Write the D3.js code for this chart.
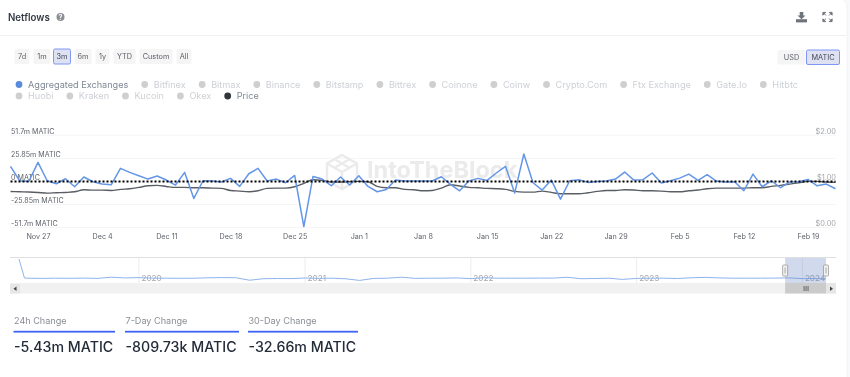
<!DOCTYPE html>
<html><head><meta charset="utf-8">
<script src="https://cdn.jsdelivr.net/npm/d3@7"></script>
<style>
html,body{margin:0;padding:0;background:#f8f9fb;overflow:hidden}
svg{display:block;filter:blur(0.35px)}
text{font-family:Inter,"Noto Sans",sans-serif}
</style></head><body><div id="chart"></div>
<script>
const title = "Netflows";
const rangeButtons = ["7d","1m","3m","6m","1y","YTD","Custom","All"];
const selectedRange = "3m";
const unitButtons = ["USD","MATIC"];
const selectedUnit = "MATIC";
const legendRow1 = ["Aggregated Exchanges","Bitfinex","Bitmax","Binance","Bitstamp","Bittrex","Coinone","Coinw","Crypto.Com","Ftx Exchange","Gate.Io","Hitbtc"];
const legendRow2 = ["Huobi","Kraken","Kucoin","Okex","Price"];
const activeColors = {"Aggregated Exchanges":"#5b8bdc","Price":"#33373d"};
const startDate = "2023-11-24";
const netflows = [16.9,0.7,0,21.4,0.7,-2.6,3.0,-6.0,4.9,-0.4,-3.0,-3.7,14.6,10.1,6.4,2.6,6.0,1.5,-4.1,10.1,-19.1,0.7,0.4,-0.7,3.4,-5.6,8.6,14.6,0.4,2.6,-1.5,6.7,-50.6,5.6,2.6,-4.9,4.9,-4.1,6.4,-5.6,-11.6,-9.0,1.5,0.4,0.4,0.4,0.4,5.2,-3.4,-10.5,0.4,3.4,1.1,9.4,16.9,-13.1,30.7,-1.5,-9.7,1.5,-19.9,0.7,1.9,-1.1,0,0.4,2.6,10.5,1.5,1.9,9.4,-1.9,0.7,3.7,8.2,1.1,7.5,0.4,-0.7,-0.4,-10.5,8.2,-6.0,0.7,-7.1,-0.7,-0.4,2.2,-4.9,-3.0,-8.2];
const price = [0.78,0.775,0.77,0.76,0.746,0.754,0.76,0.775,0.82,0.81,0.81,0.804,0.826,0.84,0.87,0.906,0.913,0.89,0.87,0.87,0.862,0.862,0.855,0.848,0.804,0.79,0.775,0.797,0.848,0.855,0.855,0.884,0.957,1.036,1.022,0.986,0.986,0.993,1.0,0.993,0.891,0.862,0.862,0.826,0.819,0.797,0.804,0.855,0.928,0.899,0.87,0.862,0.848,0.841,0.826,0.783,0.768,0.768,0.79,0.761,0.732,0.732,0.732,0.754,0.783,0.804,0.804,0.819,0.812,0.797,0.797,0.79,0.775,0.775,0.797,0.812,0.841,0.855,0.855,0.855,0.855,0.862,0.862,0.891,0.913,0.942,0.971,1.0,1.0,0.986,0.978];
const flowTicks = [51.7,25.85,0,-25.85,-51.7];
const flowTickLabels = ["51.7m MATIC","25.85m MATIC","0 MATIC","-25.85m MATIC","-51.7m MATIC"];
const priceTicks = [2,1,0];
const priceTickLabels = ["$2.00","$1.00","$0.00"];
const dateTicks = ["2023-11-27","2023-12-04","2023-12-11","2023-12-18","2023-12-25","2024-01-01","2024-01-08","2024-01-15","2024-01-22","2024-01-29","2024-02-05","2024-02-12","2024-02-19"];
const dateTickLabels = ["Nov 27","Dec 4","Dec 11","Dec 18","Dec 25","Jan 1","Jan 8","Jan 15","Jan 22","Jan 29","Feb 5","Feb 12","Feb 19"];
const navDates = ["2019-04-12","2019-04-24","2019-05-01","2019-06-01","2019-07-01","2019-08-01","2019-09-01","2019-10-01","2019-11-01","2019-12-01","2020-01-01","2020-02-01","2020-03-01","2020-04-01","2020-05-01","2020-06-01","2020-07-01","2020-08-01","2020-09-01","2020-10-01","2020-11-01","2020-12-01","2021-01-01","2021-02-01","2021-03-01","2021-04-01","2021-05-01","2021-06-01","2021-07-01","2021-08-01","2021-09-01","2021-10-01","2021-11-01","2021-12-01","2022-01-01","2022-02-01","2022-03-01","2022-04-01","2022-05-01","2022-06-01","2022-07-01","2022-08-01","2022-09-01","2022-10-01","2022-11-01","2022-12-01","2023-01-01","2023-02-01","2023-03-01","2023-04-01","2023-05-01","2023-06-01","2023-07-01","2023-08-01","2023-09-01","2023-10-01","2023-11-01","2023-12-01","2024-01-01","2024-02-01","2024-02-22"];
const navValues = [190,2,0,-2,0,-1,1,-2,10,3,6,0,0,-1,0,4,6,5,-20,-5,-3,-4,2,-2,0,-6,-22,-2,0,10,-2,0,0,3,-4,5,0,0,0,1,1,9,-5,-3,0,-12,-2,0,0,-3,4,8,3,0,0,0,1,3,-4,-3,-5];
const navYears = ["2020-01-01","2021-01-01","2022-01-01","2023-01-01","2024-01-01"];
const navWindow = ["2023-11-24","2024-02-22"];
const stats = [["24h Change","-5.43m MATIC"],["7-Day Change","-809.73k MATIC"],["30-Day Change","-32.66m MATIC"]];
const watermark = "IntoTheBlock";

const W=850,H=377;
const svg=d3.select("#chart").append("svg").attr("width",W).attr("height",H);
svg.append("rect").attr("x",-10).attr("y",-1).attr("width",857).attr("height",H+10).attr("rx",7).attr("fill","#fff").attr("stroke","#f1f2f4");

// header
svg.append("text").attr("x",8).attr("y",21).attr("font-size",9.7).attr("font-weight",600).attr("fill","#343a44").text(title);
const help=svg.append("g").attr("transform","translate(60.5,17)");
help.append("circle").attr("r",4).attr("fill","#8b8f95");
help.append("text").attr("text-anchor","middle").attr("y",2.6).attr("font-size",7).attr("font-weight",700).attr("fill","#fff").text("?");
svg.append("line").attr("x1",0).attr("x2",846).attr("y1",35.5).attr("y2",35.5).attr("stroke","#eff0f2");
const dl=svg.append("g").attr("transform","translate(801.5,17)").attr("fill","#6f747b");
dl.append("path").attr("d","M-1.8,-5 H1.8 V-1.5 H4 L0,2.2 L-4,-1.5 H-1.8 Z");
dl.append("rect").attr("x",-5.5).attr("y",2.2).attr("width",11).attr("height",3.2);
const ex=svg.append("g").attr("transform","translate(827.5,17)").attr("fill","#72767d").attr("stroke","#72767d").attr("stroke-width",1);
[[-1,-1],[1,-1],[-1,1],[1,1]].forEach(([a,b])=>{
  ex.append("path").attr("transform",`scale(${a},${b})`).attr("d","M1.5,1.5 L3.2,3.2 M4.6,4.6 V1.8 L1.8,4.6 Z");
});

// buttons
const button=(x,w,label,sel,y=48.5,h=16)=>{
  svg.append("rect").attr("x",x+.5).attr("y",y+.5).attr("width",w-1).attr("height",h-1).attr("rx",1.5)
    .attr("fill",sel?"#dde1f2":"#f5f5f6").attr("stroke",sel?"#7f98f5":"none");
  svg.append("text").attr("x",x+w/2).attr("y",y+h/2+2.7).attr("text-anchor","middle").attr("font-size",7.3).attr("fill",sel?"#444a56":"#5c6068").text(label);
};
const rangeSpans=[[14,16],[33,18],[53,18],[74,18],[95,15],[113,23],[139,34],[176,16]];
rangeButtons.forEach((b,i)=>button(rangeSpans[i][0],rangeSpans[i][1],b,b===selectedRange));
const unitSpans=[[777,29],[806,34]];
unitButtons.forEach((b,i)=>button(unitSpans[i][0],unitSpans[i][1],b,b===selectedUnit,49.5,15.5));

// legend
const legendRow=(names,y)=>{
  let x=19;
  names.forEach(n=>{
    const c=activeColors[n];
    svg.append("circle").attr("cx",x).attr("cy",y).attr("r",3.4).attr("fill",c||"#cfcfcf");
    const t=svg.append("text").attr("x",x+9).attr("y",y+3.3).attr("font-size",9.15).attr("fill",c?"#7f8794":"#cdd0d4").text(n);
    x+=9+t.node().getComputedTextLength()+16.4;
  });
};
legendRow(legendRow1,84.5);
legendRow(legendRow2,96);

// main chart
const parse=d3.utcParse("%Y-%m-%d");
const days=netflows.map((_,i)=>d3.utcDay.offset(parse(startDate),i));
const x=d3.scaleUtc().domain([days[0],days[days.length-1]]).range([10.5,835.5]);
const y=d3.scaleLinear().domain([-51.7,51.7]).range([227.5,135.3]);
const yP=d3.scaleLinear().domain([0,2]).range([227.5,135.3]);

const grid=svg.append("g");
flowTicks.forEach(t=>grid.append("line").attr("x1",10).attr("x2",836).attr("y1",y(t)).attr("y2",y(t)).attr("stroke","#f5f5f6"));

// watermark
const wm=svg.append("g");
wm.append("text").attr("x",367).attr("y",178).attr("font-size",23.5).attr("font-weight",700).attr("fill","#ebebec").text(watermark);
const hex=wm.append("g").attr("transform","translate(342,172)").attr("fill","none").attr("stroke","#ebebec").attr("stroke-width",2.4);
hex.append("path").attr("d","M0,-17 L15,-8.5 V8.5 L0,17 L-15,8.5 V-8.5 Z");
hex.append("path").attr("d","M-15,-8.5 L0,0 L15,-8.5 M0,0 V17 M-7.5,-12.7 L7.5,-4.2 M7.5,-12.7 L-7.5,-4.2");

const yAxisL=d3.axisLeft(y).tickValues(flowTicks).tickSize(0).tickFormat((d,i)=>flowTickLabels[i]);
const gl=svg.append("g").call(yAxisL);
gl.select(".domain").remove();
gl.selectAll("text").attr("x",11).attr("dy",0).attr("y",-1.9).attr("text-anchor","start").attr("font-size",7.1).attr("fill","#5f636a").attr("font-family","Inter");

const yAxisR=d3.axisRight(yP).tickValues(priceTicks).tickSize(0).tickFormat((d,i)=>priceTickLabels[i]);
const gr=svg.append("g").attr("transform","translate(836,0)").call(yAxisR);
gr.select(".domain").remove();
gr.selectAll("text").attr("x",0).attr("dy",0).attr("y",-1.9).attr("text-anchor","end").attr("font-size",7.4).attr("fill","#a4a7ac").attr("font-family","Inter");

const xAxis=d3.axisBottom(x).tickValues(dateTicks.map(parse)).tickSize(0).tickFormat((d,i)=>dateTickLabels[i]);
const gx=svg.append("g").attr("transform","translate(0,227)").call(xAxis);
gx.select(".domain").remove();
gx.selectAll("text").attr("y",12.3).attr("dy",0).attr("font-size",7.2).attr("fill","#5f636a").attr("font-family","Inter");

const flowLine=d3.line().x((d,i)=>x(days[i])).y(d=>y(d));
const priceLine=d3.line().curve(d3.curveMonotoneX).x((d,i)=>x(days[i])).y(d=>yP(d));
svg.append("path").attr("d",priceLine(price)).attr("fill","none").attr("stroke","#5a5e64").attr("stroke-width",1.4);
svg.append("path").attr("d",flowLine(netflows)).attr("fill","none").attr("stroke","#6496e8").attr("stroke-width",1.5).attr("stroke-linejoin","round");
svg.append("line").attr("x1",10.5).attr("x2",835.5).attr("y1",y(0)).attr("y2",y(0)).attr("stroke","#000").attr("stroke-width",2).attr("stroke-dasharray","2 2");

// navigator
const navX=d3.scaleUtc().domain([parse(navDates[0]),parse(navDates[navDates.length-1])]).range([19,826]);
const navY=d3.scaleLinear().domain([0,190]).range([278.2,259]);
svg.append("rect").attr("x",10).attr("y",283).attr("width",826).attr("height",10.5).attr("fill","#f1f1f1");
svg.append("line").attr("x1",10).attr("x2",836).attr("y1",257.5).attr("y2",257.5).attr("stroke","#dedfe1");
navYears.forEach((d,i)=>{
  const px=navX(parse(d));
  svg.append("line").attr("x1",px).attr("x2",px).attr("y1",258).attr("y2",283).attr("stroke","#ececee");
  svg.append("text").attr("x",px+2.5).attr("y",281).attr("font-size",8.2).attr("fill","#a5a7aa").text(d.slice(0,4));
});
svg.append("path").attr("d",d3.line().x((d,i)=>navX(parse(navDates[i]))).y(d=>navY(d))(navValues)).attr("fill","none").attr("stroke","#8fb3ec").attr("stroke-width",1);
const wx0=navX(parse(navWindow[0])),wx1=navX(parse(navWindow[1]));
svg.append("rect").attr("x",wx0).attr("y",258).attr("width",wx1-wx0).attr("height",25).attr("fill","#6685c2").attr("opacity",.3);
[wx0,wx1].forEach(px=>{
  svg.append("rect").attr("x",px-2.5).attr("y",265).attr("width",5).attr("height",11).attr("rx",1).attr("fill","#f2f2f2").attr("stroke","#9a9a9a").attr("stroke-width",.8);
  svg.append("line").attr("x1",px).attr("x2",px).attr("y1",267.5).attr("y2",273.5).attr("stroke","#c4c4c4").attr("stroke-width",1.6);
});
svg.append("rect").attr("x",wx0).attr("y",283).attr("width",wx1-wx0).attr("height",10.5).attr("fill","#cbcbcb");
svg.append("rect").attr("x",10).attr("y",284).attr("width",10).attr("height",9.5).attr("fill","#e6e6e6");
svg.append("rect").attr("x",826).attr("y",283).attr("width",10).attr("height",10.5).attr("fill","#e6e6e6");
svg.append("path").attr("d","M16.5,286.5 L13.5,288.7 L16.5,291 Z").attr("fill","#444");
svg.append("path").attr("d","M830,286.5 L833,288.7 L830,291 Z").attr("fill","#444");
[-2,0,2].forEach(o=>svg.append("line").attr("x1",(wx0+wx1)/2+o+.5).attr("x2",(wx0+wx1)/2+o+.5).attr("y1",286).attr("y2",291).attr("stroke","#666"));

// stats
const statSpans=[[13.5,101.5],[125,114],[248,110]];
stats.forEach((s,i)=>{
  const [sx,sw]=statSpans[i];
  svg.append("text").attr("x",sx+.5).attr("y",324.2).attr("font-size",9.1).attr("fill","#8a8e94").text(s[0]);
  svg.append("rect").attr("x",sx).attr("y",330.8).attr("width",sw).attr("height",1.8).attr("fill","#3f65f5");
  svg.append("text").attr("x",sx+.5).attr("y",352).attr("font-size",14.2).attr("font-weight",500).attr("fill","#232c38").text(s[1]);
});
</script></body></html>
